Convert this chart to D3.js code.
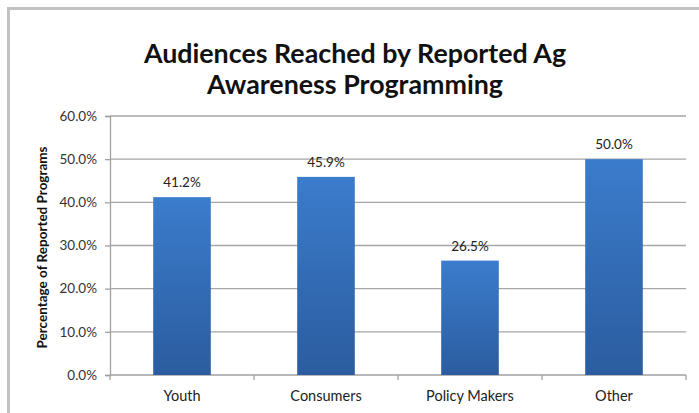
<!DOCTYPE html>
<html>
<head>
<meta charset="utf-8">
<script src="https://cdn.jsdelivr.net/npm/d3@7"></script>
<style>
  html, body { margin: 0; padding: 0; background: #fff; }
  svg { display: block; font-family: Lato, "Open Sans", sans-serif; }
</style>
</head>
<body>
<div id="chart"></div>
<script>
const width = 699;
const height = 413;
const margin = { top: 116, right: 13, bottom: 38, left: 110 };

const categories = ["Youth", "Consumers", "Policy Makers", "Other"];
const values = [41.2, 45.9, 26.5, 50.0];
const yTicks = [0, 10, 20, 30, 40, 50, 60];
const titleLines = ["Audiences Reached by Reported Ag", "Awareness Programming"];
const yLabel = "Percentage of Reported Programs";

const svg = d3
  .select("#chart")
  .append("svg")
  .attr("width", width)
  .attr("height", height);

// Gradient for bars
const grad = svg
  .append("defs")
  .append("linearGradient")
  .attr("id", "barGrad")
  .attr("x1", 0).attr("y1", 0).attr("x2", 0).attr("y2", 1);
grad.append("stop").attr("offset", "0%").attr("stop-color", "#3b7ccc");
grad.append("stop").attr("offset", "100%").attr("stop-color", "#2b5c9f");

// Outer chart frame (runs off right and bottom edges)
svg
  .append("rect")
  .attr("x", 8.5)
  .attr("y", 8.5)
  .attr("width", width + 20)
  .attr("height", height + 20)
  .attr("fill", "none")
  .attr("stroke", "#c2c2c2")
  .attr("stroke-width", 3);

const x = d3
  .scaleBand()
  .domain(categories)
  .range([margin.left, width - margin.right])
  .paddingInner(0.6)
  .paddingOuter(0.3);

const y = d3
  .scaleLinear()
  .domain([0, 60])
  .range([height - margin.bottom, margin.top]);

// Gridlines
svg
  .append("g")
  .selectAll("line")
  .data(yTicks.slice(1))
  .join("line")
  .attr("x1", margin.left)
  .attr("x2", width - margin.right)
  .attr("y1", (d) => y(d))
  .attr("y2", (d) => y(d))
  .attr("stroke", "#a6a6a6")
  .attr("stroke-width", 1.3);

// Y axis
const yAxis = svg
  .append("g")
  .attr("transform", `translate(${margin.left},0)`)
  .call(
    d3.axisLeft(y)
      .tickValues(yTicks)
      .tickFormat((d) => d.toFixed(1) + "%")
      .tickSize(5)
      .tickPadding(8)
  );
yAxis.select(".domain").attr("stroke", "#a0a0a0").attr("stroke-width", 1.3);
yAxis.selectAll(".tick line").attr("stroke", "#a0a0a0").attr("stroke-width", 1.3);
yAxis
  .selectAll(".tick text")
  .attr("fill", "#333")
  .style("font-size", "13.5px")
  .style("font-family", "Lato, sans-serif");

// X axis with ticks at category boundaries
const step = x.step();
const boundaries = d3.range(categories.length + 1).map((i) => margin.left + i * step);
const xAxisG = svg.append("g");
xAxisG
  .append("line")
  .attr("x1", margin.left)
  .attr("x2", width - margin.right)
  .attr("y1", y(0))
  .attr("y2", y(0))
  .attr("stroke", "#a0a0a0")
  .attr("stroke-width", 1.3);
xAxisG
  .selectAll("line.tick")
  .data(boundaries)
  .join("line")
  .attr("class", "tick")
  .attr("x1", (d) => d)
  .attr("x2", (d) => d)
  .attr("y1", y(0))
  .attr("y2", y(0) + 5)
  .attr("stroke", "#a0a0a0")
  .attr("stroke-width", 1.3);
xAxisG
  .selectAll("text")
  .data(categories)
  .join("text")
  .attr("x", (d) => x(d) + x.bandwidth() / 2)
  .attr("y", y(0) + 26)
  .attr("text-anchor", "middle")
  .attr("fill", "#222")
  .style("font-size", "14.5px")
  .text((d) => d);

// Bars
svg
  .append("g")
  .selectAll("rect")
  .data(values)
  .join("rect")
  .attr("x", (d, i) => x(categories[i]))
  .attr("y", (d) => y(d))
  .attr("width", x.bandwidth())
  .attr("height", (d) => y(0) - y(d))
  .attr("fill", "url(#barGrad)");

// Value labels
svg
  .append("g")
  .selectAll("text")
  .data(values)
  .join("text")
  .attr("x", (d, i) => x(categories[i]) + x.bandwidth() / 2)
  .attr("y", (d) => y(d) - 10)
  .attr("text-anchor", "middle")
  .attr("fill", "#222")
  .style("font-size", "13.5px")
  .text((d) => d.toFixed(1) + "%");

// Title
svg
  .append("g")
  .selectAll("text")
  .data(titleLines)
  .join("text")
  .attr("x", 355)
  .attr("y", (d, i) => 63 + i * 31)
  .attr("text-anchor", "middle")
  .attr("fill", "#111")
  .style("font-size", "26.8px")
  .style("font-weight", "bold")
  .text((d) => d);

// Y axis label
svg
  .append("text")
  .attr("transform", `translate(47,${(y(0) + y(60)) / 2 + 2}) rotate(-90)`)
  .attr("text-anchor", "middle")
  .attr("fill", "#111")
  .style("font-size", "13.5px")
  .style("font-weight", "bold")
  .text(yLabel);
</script>
</body>
</html>
